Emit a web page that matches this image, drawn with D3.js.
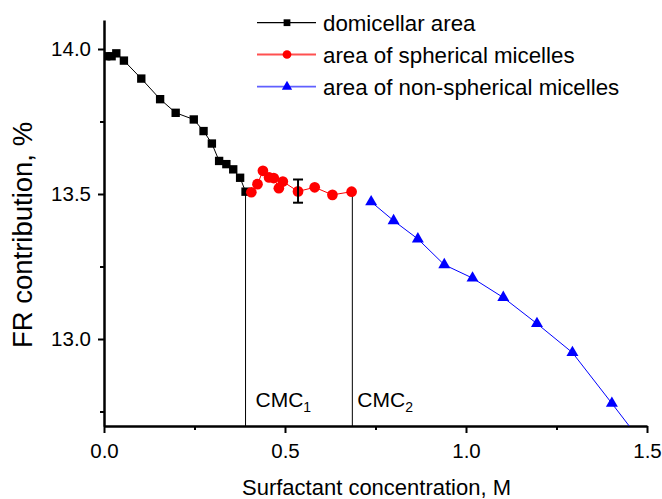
<!DOCTYPE html>
<html>
<head>
<meta charset="utf-8">
<script src="https://cdn.jsdelivr.net/npm/d3@7"></script>
<style>
  html, body { margin: 0; padding: 0; background: #fff; }
  svg { display: block; font-family: "Liberation Sans", Arial, sans-serif; }
</style>
</head>
<body>
<svg id="chart" width="662" height="499"></svg>
<script>
// ---- data ----
const seriesNames = ["domicellar area", "area of spherical micelles", "area of non-spherical micelles"];
const blackX = [0.006, 0.021, 0.034, 0.055, 0.103, 0.155, 0.198, 0.248, 0.275, 0.298, 0.318, 0.338, 0.357, 0.376, 0.391];
const blackY = [13.975, 13.975, 13.985, 13.960, 13.898, 13.827, 13.780, 13.757, 13.717, 13.674, 13.614, 13.603, 13.585, 13.556, 13.508];
const redX = [0.407, 0.424, 0.439, 0.456, 0.469, 0.483, 0.494, 0.536, 0.582, 0.631, 0.684];
const redY = [13.506, 13.534, 13.580, 13.557, 13.555, 13.520, 13.543, 13.509, 13.523, 13.497, 13.508];
const blueX = [0.738, 0.800, 0.867, 0.940, 1.018, 1.103, 1.196, 1.294, 1.403, 1.500];
const blueY = [13.473, 13.408, 13.345, 13.256, 13.210, 13.143, 13.053, 12.953, 12.778, 12.620];
const errX = [0.536];
const errLow = [13.470];
const errHigh = [13.550];
const cmcX = [0.391, 0.686];
const cmcY = [13.508, 13.508];
const cmcLabels = [["CMC", "1"], ["CMC", "2"]];
const xTicks = [0.0, 0.5, 1.0, 1.5];
const xMinorTicks = [0.25, 0.75, 1.25];
const yTicks = [13.0, 13.5, 14.0];
const yMinorTicks = [12.75, 13.25, 13.75];
const xTitle = "Surfactant concentration, M";
const yTitle = "FR contribution, %";

// ---- layout ----
const svg = d3.select("#chart");
const x = d3.scaleLinear().domain([0, 1.5]).range([104, 647]);
const y = d3.scaleLinear().domain([12.7, 14.1]).range([426, 20]);

svg.append("defs").append("clipPath").attr("id", "plotclip")
  .append("rect").attr("x", x(0)).attr("y", y(14.1))
  .attr("width", x(1.5) - x(0)).attr("height", y(12.7) - y(14.1));

// minor ticks
const gxMinor = svg.append("g").attr("transform", `translate(0,${y(12.7)})`)
  .call(d3.axisBottom(x).tickValues(xMinorTicks).tickSize(4).tickFormat(""));
gxMinor.select(".domain").remove();
gxMinor.selectAll("line").attr("stroke-width", 2);
const gyMinor = svg.append("g").attr("transform", `translate(${x(0)},0)`)
  .call(d3.axisLeft(y).tickValues(yMinorTicks).tickSize(4).tickFormat(""));
gyMinor.select(".domain").remove();
gyMinor.selectAll("line").attr("stroke-width", 2);

// major axes
const gx = svg.append("g").attr("transform", `translate(0,${y(12.7)})`)
  .call(d3.axisBottom(x).tickValues(xTicks).tickSize(7).tickSizeOuter(0).tickPadding(10).tickFormat(d3.format(".1f")));
gx.select(".domain").attr("stroke-width", 2.5);
gx.selectAll("line").attr("stroke-width", 2);
gx.selectAll("text").attr("font-size", 20.5).attr("fill", "#000")
  .attr("font-family", "Liberation Sans, Arial, sans-serif");

const gy = svg.append("g").attr("transform", `translate(${x(0)},0)`)
  .call(d3.axisLeft(y).tickValues(yTicks).tickSize(6).tickSizeOuter(0).tickPadding(7).tickFormat(d3.format(".1f")));
gy.select(".domain").attr("stroke-width", 2.5);
gy.selectAll("line").attr("stroke-width", 2);
gy.selectAll("text").attr("font-size", 20.5).attr("fill", "#000")
  .attr("font-family", "Liberation Sans, Arial, sans-serif");

// axis titles
svg.append("text").attr("x", (x(0) + x(1.5)) / 2 + 1).attr("y", 495)
  .attr("text-anchor", "middle").attr("font-size", 22).text(xTitle);
svg.append("text").attr("transform", `translate(32,235) rotate(-90)`)
  .attr("text-anchor", "middle").attr("font-size", 27.5).text(yTitle);

// CMC vertical lines and labels
svg.append("g").selectAll("line").data(cmcX).join("line")
  .attr("x1", d => x(d)).attr("x2", d => x(d))
  .attr("y1", (d, i) => y(cmcY[i])).attr("y2", y(12.7))
  .attr("stroke", "#000").attr("stroke-width", 1);
const labelOffsets = [10, 5];
cmcLabels.forEach((lab, i) => {
  const t = svg.append("text").attr("x", x(cmcX[i]) + labelOffsets[i]).attr("y", 407)
    .attr("font-size", 21);
  t.append("tspan").text(lab[0]);
  t.append("tspan").attr("font-size", 14).attr("dy", 5).text(lab[1]);
});

// series
const series = [
  { xs: blackX, ys: blackY, color: "#000000", sym: d3.symbolSquare, size: 70 },
  { xs: redX, ys: redY, color: "#ff0000", sym: d3.symbolCircle, size: 90 },
  { xs: blueX, ys: blueY, color: "#0000ff", sym: d3.symbolTriangle, size: 62 }
];
const plot = svg.append("g").attr("clip-path", "url(#plotclip)");
const line = d3.line().x(d => x(d[0])).y(d => y(d[1]));
series.forEach(s => {
  const pts = s.xs.map((v, i) => [v, s.ys[i]]);
  plot.append("path").datum(pts).attr("d", line)
    .attr("fill", "none").attr("stroke", s.color).attr("stroke-width", 1);
});
series.forEach(s => {
  const pts = s.xs.map((v, i) => [v, s.ys[i]]);
  plot.append("g").selectAll("path").data(pts).join("path")
    .attr("transform", d => `translate(${x(d[0])},${y(d[1])})`)
    .attr("d", d3.symbol().type(s.sym).size(s.size))
    .attr("fill", s.color);
});

// error bar
const eb = svg.append("g").attr("stroke", "#000").attr("stroke-width", 2);
errX.forEach((ex, i) => {
  eb.append("line").attr("x1", x(ex)).attr("x2", x(ex)).attr("y1", y(errLow[i])).attr("y2", y(errHigh[i]));
  eb.append("line").attr("x1", x(ex) - 5).attr("x2", x(ex) + 5).attr("y1", y(errLow[i])).attr("y2", y(errLow[i]));
  eb.append("line").attr("x1", x(ex) - 5).attr("x2", x(ex) + 5).attr("y1", y(errHigh[i])).attr("y2", y(errHigh[i]));
});

// legend
const legendRows = [22.7, 54.5, 86.7];
const legendColors = ["#000000", "#ff0000", "#0000ff"];
const legendStroke = ["#000000", "#ff5050", "#6060ff"];
const legendSyms = [d3.symbolSquare, d3.symbolCircle, d3.symbolTriangle];
const legendSizes = [46, 60, 46];
const lg = svg.append("g");
seriesNames.forEach((name, i) => {
  const yy = legendRows[i];
  lg.append("line").attr("x1", 257).attr("x2", 316).attr("y1", yy).attr("y2", yy)
    .attr("stroke", legendStroke[i]).attr("stroke-width", i === 0 ? 1.2 : 1.8);
  lg.append("path").attr("transform", `translate(287,${yy})`)
    .attr("d", d3.symbol().type(legendSyms[i]).size(legendSizes[i]))
    .attr("fill", legendColors[i]);
  lg.append("text").attr("x", 323).attr("y", yy + 8).attr("font-size", 22.3).text(name);
});
</script>
</body>
</html>
